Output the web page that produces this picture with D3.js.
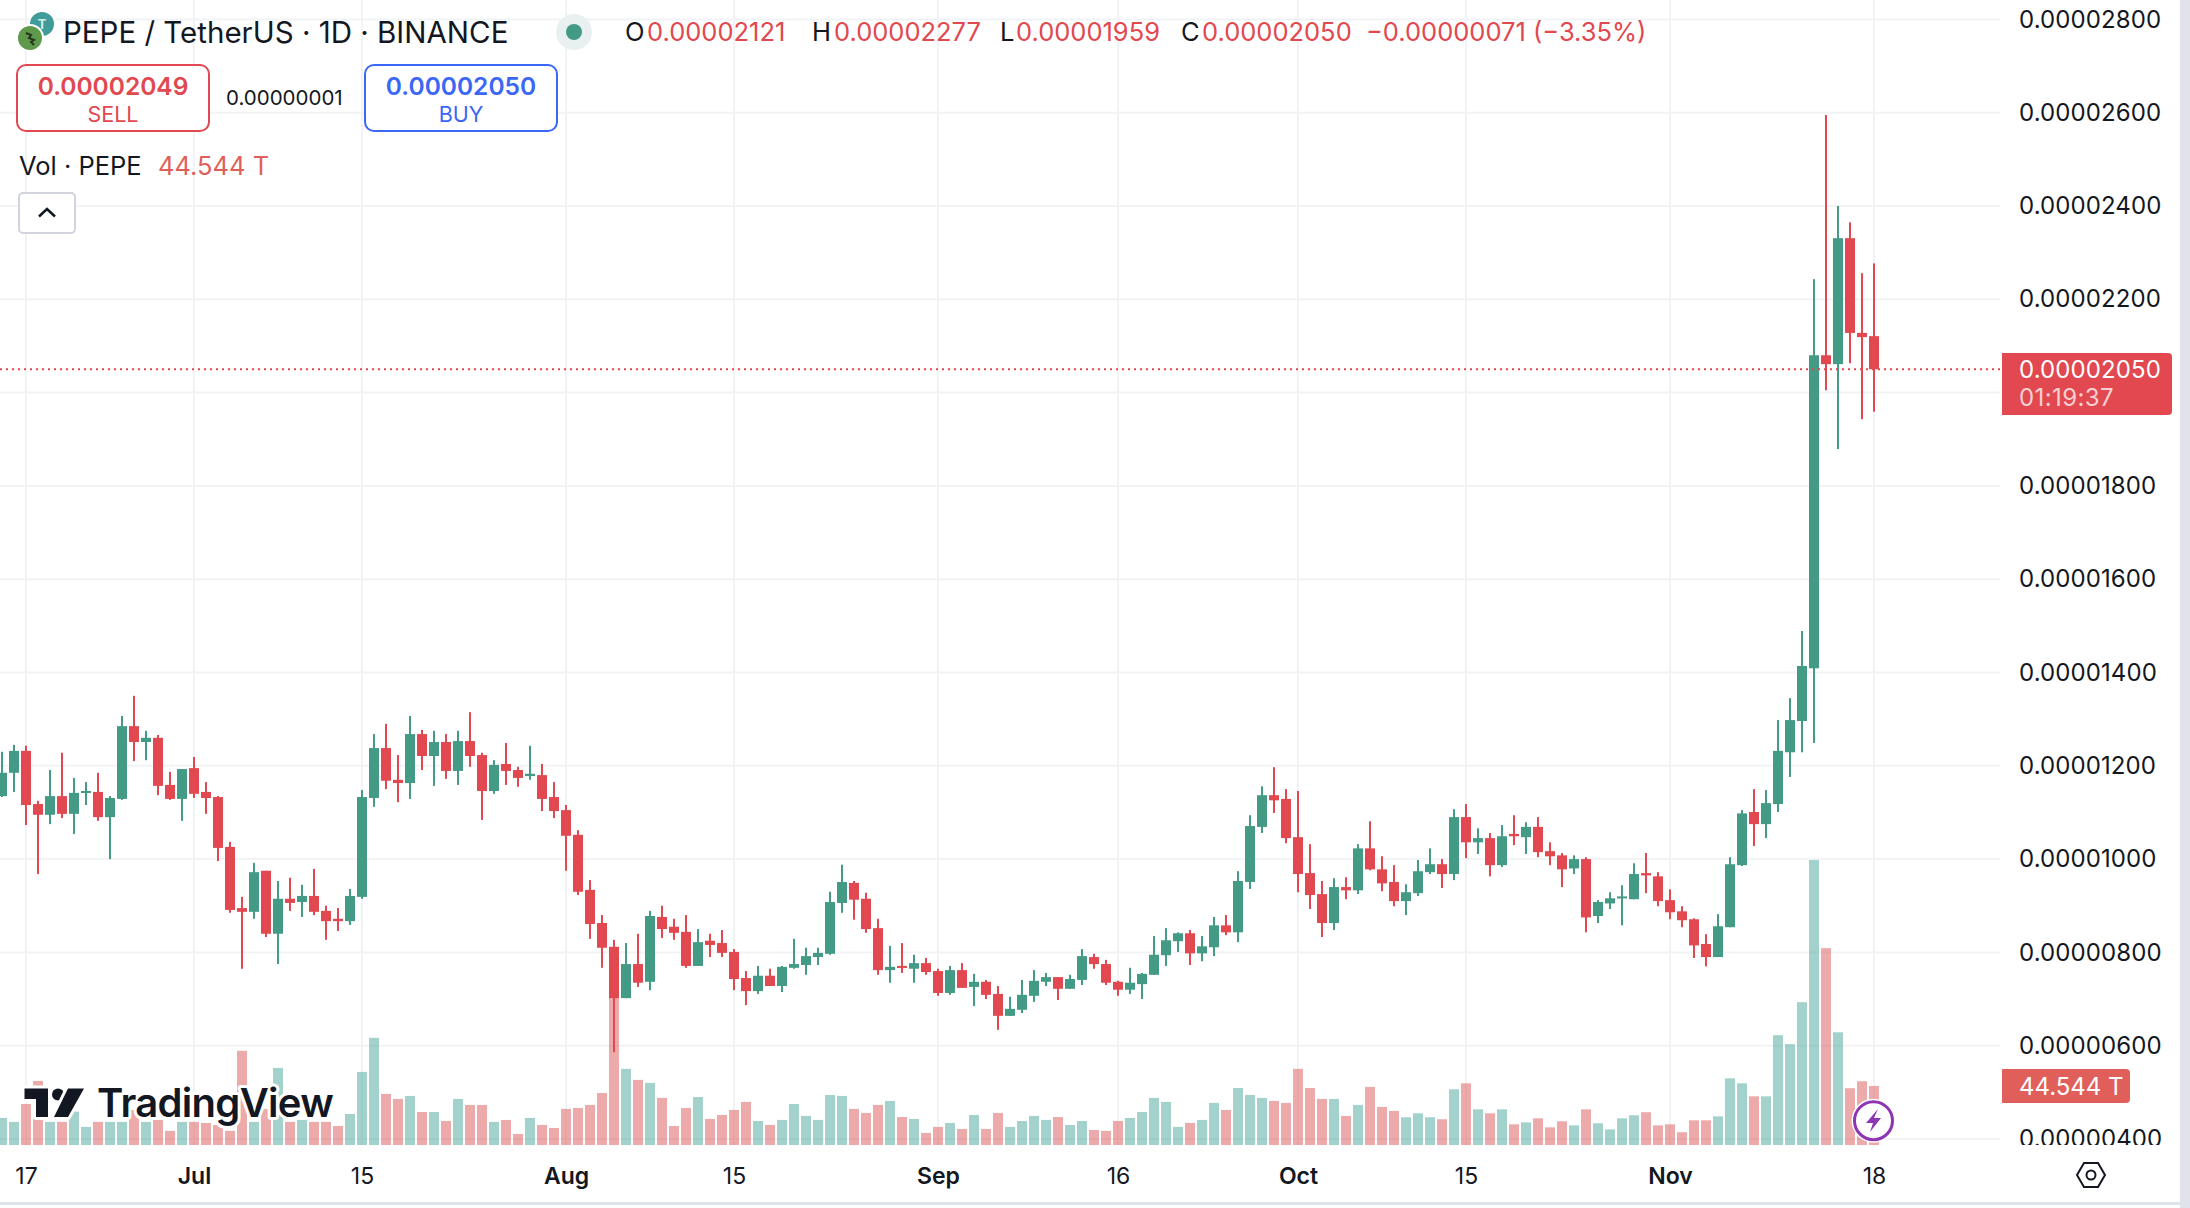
<!DOCTYPE html>
<html>
<head>
<meta charset="utf-8">
<title>PEPE / TetherUS</title>
<script src="https://cdn.jsdelivr.net/npm/d3@7"></script>
<style>
  html, body { margin: 0; padding: 0; background: #fff; }
  svg { display: block; font-family: Inter, "Noto Sans", sans-serif; }
  text { fill: #131722; }
</style>
</head>
<body>
<svg id="chart"></svg>
<script>
// Prices are in units of 0.00000001, one value per day from 15 Jun to 18 Nov
const startDay = Date.UTC(2024, 5, 15);

const opens = [
  1135,1185,1232,1118,1095,1135,1097,1142,1144,1090,
  1129,1285,1251,1260,1159,1129,1195,1144,1133,1026,
  895,887,975,840,915,908,921,889,872,867,
  919,1131,1238,1170,1163,1268,1221,1251,1189,1253,
  1223,1146,1204,1191,1178,1180,1133,1105,1052,934,
  863,812,702,775,737,876,855,844,771,825,
  820,801,745,717,750,728,767,773,790,797,
  906,949,915,852,762,771,765,777,760,713,
  762,726,737,711,664,677,707,737,747,722,
  741,790,775,737,720,732,752,794,824,841,
  798,811,858,843,951,1069,1137,1129,1047,970,
  925,863,940,933,1023,978,951,910,927,972,
  989,968,1090,1036,1045,987,1054,1047,1069,1017,
  1008,980,1000,878,905,916,914,970,963,912,
  888,871,818,790,854,987,1101,1075,1118,1229,
  1296,1409,2080,2061,2331,2128,2121
];
const highs = [
  1230,1245,1243,1125,1191,1228,1174,1165,1185,1135,
  1307,1350,1275,1266,1187,1193,1219,1165,1135,1037,
  919,992,975,953,960,945,979,900,895,936,
  1148,1268,1290,1223,1307,1277,1275,1268,1275,1315,
  1228,1212,1249,1198,1243,1204,1165,1116,1062,955,
  880,827,820,840,889,900,872,880,850,840,
  848,807,760,771,765,771,829,810,810,930,
  988,953,928,872,814,820,795,788,765,771,
  777,754,741,728,705,741,762,756,747,752,
  807,797,784,739,767,756,835,852,843,848,
  835,876,880,974,1094,1156,1197,1150,1146,1032,
  953,959,961,1032,1081,1006,987,946,998,1023,
  1000,1107,1118,1066,1056,1073,1094,1079,1090,1036,
  1013,1008,1004,912,929,944,991,1013,972,935,
  899,873,839,882,1004,1105,1150,1148,1298,1345,
  1489,2243,2595,2400,2365,2256,2277
];
const lows = [
  1133,1144,1073,968,1075,1088,1054,1116,1082,1000,
  1127,1210,1212,1137,1127,1082,1131,1097,996,885,
  765,872,833,775,889,876,880,827,846,859,
  915,1112,1150,1122,1129,1191,1157,1172,1159,1198,
  1084,1140,1159,1155,1170,1103,1088,975,923,829,
  767,586,702,726,719,831,827,767,771,790,
  790,719,687,711,728,715,765,752,773,795,
  885,870,842,752,735,756,735,752,707,709,
  724,685,700,634,664,670,694,728,698,722,
  730,765,730,707,711,700,752,771,801,773,
  781,792,837,822,936,1056,1099,1034,929,893,
  833,848,914,925,976,931,899,880,921,968,
  938,955,1002,1011,963,983,1030,1011,1004,987,
  940,968,843,863,893,858,914,927,899,871,
  854,788,770,790,854,985,1028,1045,1101,1176,
  1229,1249,2005,1879,2063,1943,1959
];
const closes = [
  1185,1232,1116,1095,1135,1097,1142,1146,1090,1131,
  1285,1251,1260,1157,1129,1193,1140,1131,1024,891,
  887,972,840,915,906,921,887,867,867,921,
  1133,1238,1168,1163,1268,1221,1251,1189,1253,1221,
  1146,1202,1189,1174,1183,1129,1103,1050,930,861,
  810,702,775,735,878,850,842,771,822,816,
  799,743,717,750,728,769,775,792,799,908,
  951,913,850,762,769,767,777,758,713,762,
  724,737,709,664,679,709,739,747,722,743,
  792,775,735,720,735,754,795,826,841,798,
  813,858,843,953,1071,1137,1126,1045,968,923,
  863,940,933,1023,978,948,910,929,974,989,
  968,1090,1036,1045,987,1049,1049,1069,1015,1006,
  978,1000,875,908,916,920,968,965,910,886,
  869,815,790,856,989,1098,1075,1120,1232,1298,
  1414,2080,2061,2331,2128,2119,2050
];
// Volume in trillions
const volumes = [
  20.4,17.4,30.9,48.3,17.4,17.4,25.2,13.6,17.4,17.4,
  17.4,26.4,17.4,18.9,10.6,17.4,17.4,16.6,15.1,10.6,
  71.0,17.4,27.2,58.1,17.4,18.9,17.4,17.4,14.3,23.4,
  55.1,80.8,38.5,34.7,37.0,24.9,24.9,18.1,34.7,30.2,
  30.2,17.4,18.9,8.3,20.4,15.1,12.8,27.2,27.9,30.2,
  39.2,111,57.4,49.1,46.8,35.5,14.3,27.9,36.2,19.6,
  22.6,26.4,32.5,18.1,15.1,18.9,30.9,21.9,18.9,37.7,
  37.0,27.2,24.2,30.2,33.2,21.1,19.6,9.1,13.6,16.6,
  12.1,22.6,12.1,24.2,13.6,18.1,21.9,18.9,21.1,15.1,
  18.1,11.3,10.6,18.1,20.4,24.9,35.5,32.5,13.6,16.6,
  18.9,31.7,26.4,43.0,37.7,35.5,33.2,31.7,57.4,43.0,
  34.7,34.7,21.9,30.2,43.8,28.7,25.7,20.9,23.9,20.9,
  19.4,42.0,46.5,26.9,23.9,26.9,15.6,17.1,20.1,13.3,
  17.9,14.8,26.9,16.4,11.8,20.1,22.4,24.7,14.8,15.6,
  9.6,18.6,18.6,21.6,50.3,46.5,36.7,36.7,82.8,76.0,
  107.7,214.9,148.4,85.0,42.8,48.1,44.544
];
const priceTicks = [400,600,800,1000,1200,1400,1600,1800,2000,2200,2400,2600,2800];
const timeTickDates = [
  Date.UTC(2024,5,17), Date.UTC(2024,6,1), Date.UTC(2024,6,15), Date.UTC(2024,7,1),
  Date.UTC(2024,7,15), Date.UTC(2024,8,1), Date.UTC(2024,8,16), Date.UTC(2024,9,1),
  Date.UTC(2024,9,15), Date.UTC(2024,10,1), Date.UTC(2024,10,18)
];
const timeTickLabels = ["17","Jul","15","Aug","15","Sep","16","Oct","15","Nov","18"];
const lastPrice = 2050;

const width = 2190;
const height = 1208;
const paneRight = 2000;
const paneBottom = 1145;

const green = "#439a85";
const red = "#e1484f";
const ink = "#131722";

const days = opens.map((_, i) => new Date(startDay + i * 864e5));
const candles = days.map((d, i) => ({
  date: d, o: opens[i], h: highs[i], l: lows[i], c: closes[i], v: volumes[i],
  up: closes[i] >= opens[i]
}));

const x = d3.scaleUtc().domain([days[0], days[days.length - 1]]).range([2, 1874]);
const y = d3.scaleLinear().domain([400, 2800]).range([1139, 19.4]);
const yVol = d3.scaleLinear().domain([0, 214.9]).range([paneBottom, 860]);

const svg = d3.select("#chart").attr("width", width).attr("height", height);
svg.append("rect").attr("width", width).attr("height", height).attr("fill", "#fff");

svg.append("defs").append("clipPath").attr("id", "clip-axis")
  .append("rect").attr("x", paneRight).attr("y", 0).attr("width", 180).attr("height", paneBottom);

// Grid
const grid = svg.append("g").attr("stroke", "#f2f3f5").attr("stroke-width", 2);
grid.selectAll("line.h").data(priceTicks).enter().append("line")
  .attr("class", "h").attr("x1", 0).attr("x2", paneRight)
  .attr("y1", (d) => y(d)).attr("y2", (d) => y(d));
grid.selectAll("line.v").data(timeTickDates).enter().append("line")
  .attr("class", "v").attr("y1", 0).attr("y2", paneBottom)
  .attr("x1", (d) => x(d)).attr("x2", (d) => x(d));

// Volume bars
svg.append("g").selectAll("rect").data(candles).enter().append("rect")
  .attr("x", (d) => x(d.date) - 5)
  .attr("width", 10)
  .attr("y", (d) => yVol(d.v))
  .attr("height", (d) => paneBottom - yVol(d.v))
  .attr("fill", (d) => (d.up ? "#45a698" : "#d95555"))
  .attr("fill-opacity", 0.5);

// TradingView watermark
const mark = svg.append("g").attr("fill", ink).attr("stroke", "#fff")
  .attr("stroke-width", 6).attr("paint-order", "stroke").attr("stroke-linejoin", "round");
mark.append("path").attr("d", "M24.5 1088.5H48V1117H36V1099H24.5Z");
mark.append("circle").attr("cx", 58).attr("cy", 1094.5).attr("r", 6);
mark.append("path").attr("d", "M68 1088.5H84L68 1117H54Z");
svg.append("text").attr("x", 97).attr("y", 1117).text("TradingView")
  .attr("font-size", 40).attr("font-weight", 600).attr("letter-spacing", -0.7)
  .attr("stroke", "#fff").attr("stroke-width", 6).attr("paint-order", "stroke")
  .attr("stroke-linejoin", "round").style("fill", ink);

// Candles
const candle = svg.append("g").selectAll("g").data(candles).enter().append("g")
  .attr("fill", (d) => (d.up ? green : red));
candle.append("rect")
  .attr("x", (d) => x(d.date) - 1)
  .attr("width", 2)
  .attr("y", (d) => y(d.h))
  .attr("height", (d) => y(d.l) - y(d.h));
candle.append("rect")
  .attr("x", (d) => x(d.date) - 5)
  .attr("width", 10)
  .attr("y", (d) => y(Math.max(d.o, d.c)))
  .attr("height", (d) => Math.max(2, Math.abs(y(d.o) - y(d.c))));

// Last price line
svg.append("line")
  .attr("x1", 0).attr("x2", paneRight)
  .attr("y1", y(lastPrice)).attr("y2", y(lastPrice))
  .attr("stroke", red).attr("stroke-width", 2).attr("stroke-dasharray", "2 4");

// Price axis
const yAxis = d3.axisRight(y).tickValues(priceTicks).tickSize(0).tickPadding(0)
  .tickFormat((d) => (d / 1e8).toFixed(8));
const yAxisG = svg.append("g").attr("clip-path", "url(#clip-axis)").append("g")
  .attr("transform", "translate(2019,0)").call(yAxis);
yAxisG.select(".domain").remove();
yAxisG.selectAll("text").attr("font-size", 24).style("font-family", "Inter").attr("letter-spacing", 0.1);

// Time axis
const xAxis = d3.axisBottom(x).tickValues(timeTickDates).tickSize(0).tickPadding(0)
  .tickFormat((d, i) => timeTickLabels[i]);
const xAxisG = svg.append("g").attr("transform", "translate(0,1168)").call(xAxis);
xAxisG.select(".domain").remove();
xAxisG.selectAll("text").attr("font-size", 23).style("font-family", "Inter")
  .attr("font-weight", (d, i) => (isNaN(+timeTickLabels[i]) ? 600 : 400));

// Plain text helper
function label(px, py, str, size, color, opts = {}) {
  return svg.append("text").attr("x", px).attr("y", py).attr("dy", "0.36em")
    .attr("font-size", size).attr("font-weight", opts.weight || 400)
    .attr("text-anchor", opts.anchor || "start")
    .attr("letter-spacing", opts.spacing || 0)
    .style("fill", color).text(str);
}

// Last price and volume tags
svg.append("path").attr("fill", red)
  .attr("d", "M2002 353H2168a4 4 0 0 1 4 4V411a4 4 0 0 1 -4 4H2002Z");
label(2019, 369.5, "0.00002050", 24, "#fff", { spacing: 0.1 });
label(2019, 397, "01:19:37", 24, "#f6d0d2", { spacing: 0.4 });
svg.append("path").attr("fill", "#e05f5a")
  .attr("d", "M2002 1069H2126a4 4 0 0 1 4 4V1099a4 4 0 0 1 -4 4H2002Z");
label(2019, 1086, "44.544 T", 24, "#fff");

// Header: symbol icons, title and status dot
svg.append("circle").attr("cx", 42).attr("cy", 24).attr("r", 12).attr("fill", "#3f9c98");
svg.append("text").attr("x", 42).attr("y", 29).attr("text-anchor", "middle")
  .attr("font-size", 13).attr("font-weight", 700).style("fill", "#d6efeb").text("T");
svg.append("circle").attr("cx", 30).attr("cy", 38).attr("r", 14).attr("fill", "#fff");
svg.append("circle").attr("cx", 30).attr("cy", 38).attr("r", 12).attr("fill", "#5f9a4c");
svg.append("path").attr("d", "M26 33l5 2-2 3 5 2-3 2 3 3").attr("fill", "none")
  .attr("stroke", "#26351f").attr("stroke-width", 2);

label(63, 32, "PEPE / TetherUS · 1D · BINANCE", 29.5, ink);
svg.append("circle").attr("cx", 574).attr("cy", 32).attr("r", 18).attr("fill", "#e8f1ef");
svg.append("circle").attr("cx", 574).attr("cy", 32).attr("r", 8).attr("fill", green);

// OHLC legend
label(625, 32, "O", 25.5, ink);
label(647, 32, "0.00002121", 25.5, red);
label(812, 32, "H", 25.5, ink);
label(834, 32, "0.00002277", 25.5, red);
label(1000, 32, "L", 25.5, ink);
label(1016, 32, "0.00001959", 25.5, red);
label(1181, 32, "C", 25.5, ink);
label(1202, 32, "0.00002050", 25.5, red);
label(1366, 32, "−0.00000071 (−3.35%)", 25.5, red);

// Sell and buy buttons
svg.append("rect").attr("x", 17).attr("y", 65).attr("width", 192).attr("height", 66).attr("rx", 9)
  .attr("fill", "#fff").attr("stroke", red).attr("stroke-width", 2);
label(113, 86, "0.00002049", 24.5, red, { anchor: "middle", weight: 600 });
label(113, 114.5, "SELL", 21.5, red, { anchor: "middle" });
label(226, 98, "0.00000001", 20.5, ink);
svg.append("rect").attr("x", 365).attr("y", 65).attr("width", 192).attr("height", 66).attr("rx", 9)
  .attr("fill", "#fff").attr("stroke", "#3a67f5").attr("stroke-width", 2);
label(461, 86, "0.00002050", 24.5, "#3a67f5", { anchor: "middle", weight: 600 });
label(461, 114.5, "BUY", 21.5, "#3a67f5", { anchor: "middle" });

// Volume legend and collapse button
label(19, 166, "Vol · PEPE", 25.5, ink);
label(158, 166, "44.544 T", 25.5, "#e05f5a");
svg.append("rect").attr("x", 19).attr("y", 193).attr("width", 56).attr("height", 40).attr("rx", 4)
  .attr("fill", "#fff").attr("stroke", "#d1d4dc").attr("stroke-width", 2);
svg.append("path").attr("d", "M39 216.5L47 209L55 216.5").attr("fill", "none")
  .attr("stroke", ink).attr("stroke-width", 2.5);

// Lightning badge
svg.append("circle").attr("cx", 1873.5).attr("cy", 1120.7).attr("r", 22).attr("fill", "#fff");
svg.append("circle").attr("cx", 1873.5).attr("cy", 1120.7).attr("r", 19).attr("fill", "#fff")
  .attr("stroke", "#8e35b2").attr("stroke-width", 3);
svg.append("path").attr("fill", "#8e35b2")
  .attr("d", "M1878 1109L1866 1123H1873L1870 1132L1881 1118H1874Z");

// Settings icon
svg.append("path").attr("fill", "none").attr("stroke", ink).attr("stroke-width", 2)
  .attr("d", "M2084 1163H2098L2105 1175L2098 1187H2084L2077 1175Z");
svg.append("circle").attr("cx", 2091).attr("cy", 1175).attr("r", 4.5).attr("fill", "none")
  .attr("stroke", ink).attr("stroke-width", 2);

// Window edges
svg.append("rect").attr("x", 2180).attr("y", 0).attr("width", 10).attr("height", height).attr("fill", "#e0e3eb");
svg.append("rect").attr("x", 0).attr("y", 1202).attr("width", 2180).attr("height", 3).attr("fill", "#e0e3eb");
</script>
</body>
</html>
